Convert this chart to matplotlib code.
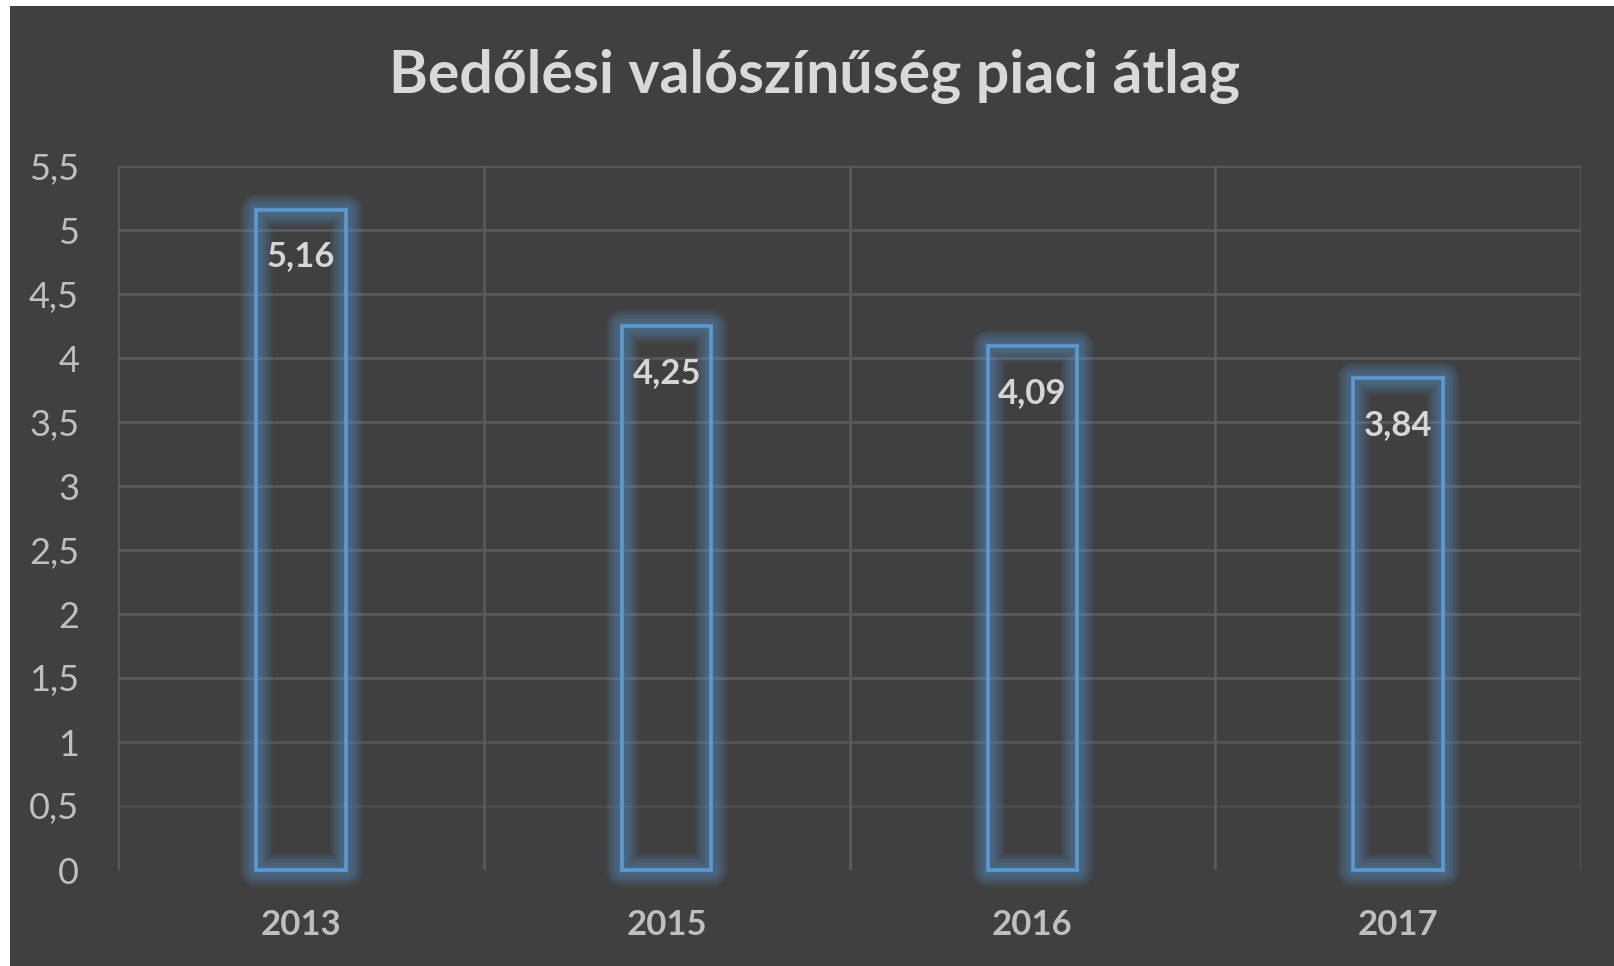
import matplotlib
matplotlib.use("Agg")
import matplotlib.pyplot as plt
import matplotlib.patheffects as pe
from matplotlib.patches import Rectangle

# chart data
years = ["2013", "2015", "2016", "2017"]
values = [5.16, 4.25, 4.09, 3.84]
yticks = [0, 0.5, 1, 1.5, 2, 2.5, 3, 3.5, 4, 4.5, 5, 5.5]
title = "Bedőlési valószínűség piaci átlag"

bg = "#404040"
blue = "#5B9BD5"
grid_col = "#5c5c5c"
fonts = ["Lato", "DejaVu Sans"]

W, H = 1614, 966
fig = plt.figure(figsize=(W / 100, H / 100), dpi=100, facecolor="white")
fig.patches.append(Rectangle((10 / W, 0), 1 - 10 / W, 1 - 6 / H,
                             transform=fig.transFigure, facecolor=bg,
                             edgecolor="none", zorder=-10))

ax = fig.add_axes([118 / W, 1 - 870 / H, (1581 - 118) / W, (870 - 166) / H])
ax.set_facecolor(bg)
ax.patch.set_alpha(0)

x = list(range(len(years)))
bars = ax.bar(x, values, width=0.245, fill=False, edgecolor=blue,
              linewidth=2.6, zorder=3)

# soft glow: many thin-alpha strokes stacked from wide to narrow
glow = [pe.Stroke(linewidth=w, foreground=blue, alpha=0.06, joinstyle="round")
        for w in range(24, 4, -2)]
for b in bars:
    b.set_clip_on(False)
    b.set_path_effects(glow + [pe.Normal()])

for xi, v in zip(x, values):
    ax.annotate(f"{v:.2f}".replace(".", ","), (xi, v), xytext=(0, -47),
                textcoords="offset pixels", ha="center", va="center",
                fontsize=25, fontweight="bold", color="#d6d6d6",
                family=fonts, zorder=4)

ax.set_xlim(-0.5, len(years) - 0.5)
ax.set_ylim(0, 5.5)
ax.set_yticks(yticks)
ax.set_yticklabels([f"{t:g}".replace(".", ",") for t in yticks],
                   fontsize=26, color="#bfbfbf", family=fonts)
ax.set_xticks(x)
ax.set_xticklabels(years, fontsize=25, fontweight="bold", color="#bfbfbf",
                   family=fonts)
ax.set_xticks([i - 0.5 for i in range(len(years) + 1)], minor=True)
ax.tick_params(axis="both", which="both", length=0)
ax.tick_params(axis="y", pad=28)
ax.tick_params(axis="x", pad=28)

ax.grid(axis="y", which="major", color=grid_col, linewidth=1.8, zorder=0)
ax.grid(axis="x", which="minor", color=grid_col, linewidth=1.8, zorder=0)
# gridlines fade out toward the bottom
for t, gl in zip(yticks, ax.get_ygridlines()):
    gl.set_alpha(min(1.0, 0.1 + t / 1.5))
for s in ax.spines.values():
    s.set_visible(False)

fig.text(815 / W, 1 - 77 / H, title, ha="center", va="center",
         fontsize=42.5, fontweight="bold", color="#d9d9d9", family=fonts)

fig.savefig("out.png", dpi=100, facecolor=fig.get_facecolor())
